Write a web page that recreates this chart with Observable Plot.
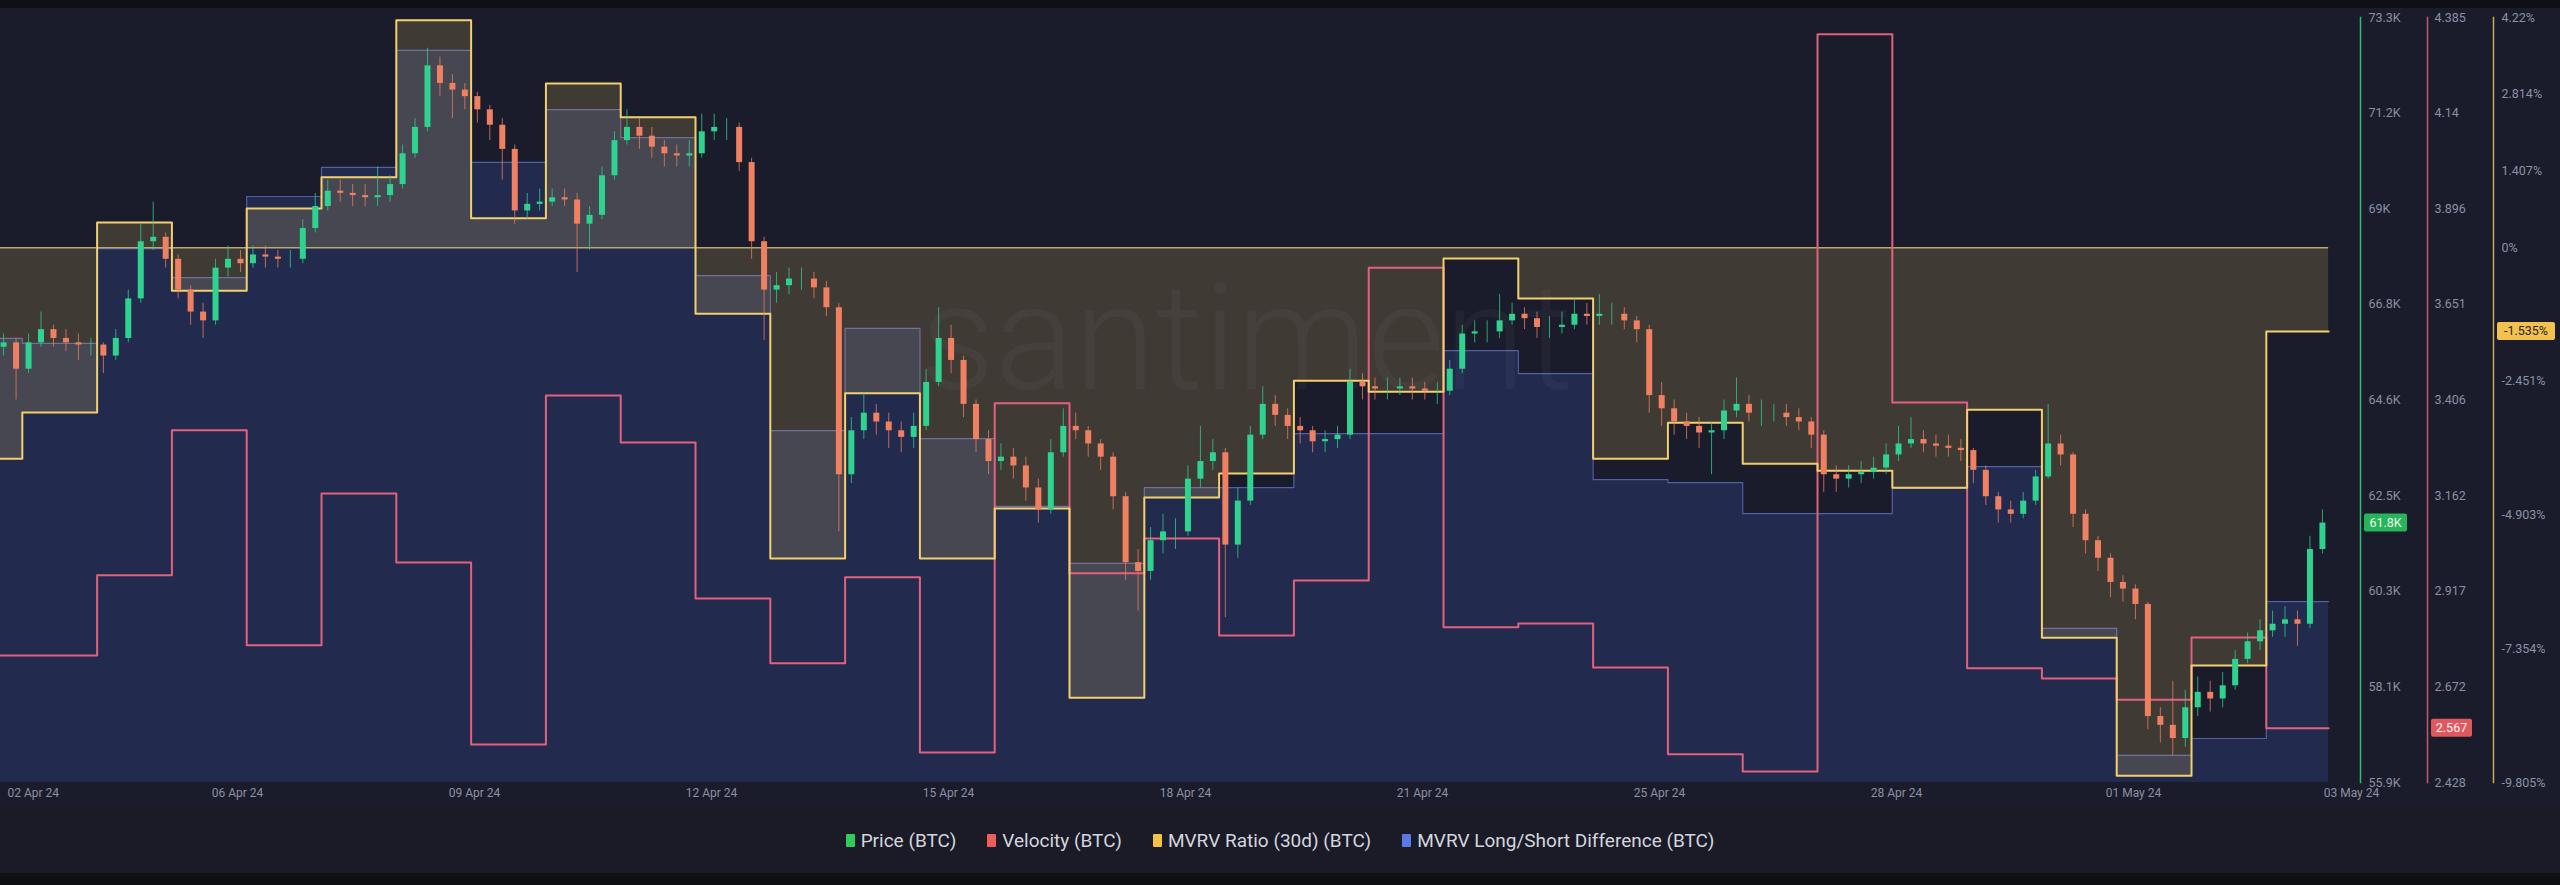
<!DOCTYPE html>
<html>
<head>
<meta charset="utf-8">
<script src="https://cdn.jsdelivr.net/npm/d3@7"></script>
<script src="https://cdn.jsdelivr.net/npm/@observablehq/plot@0.6"></script>
<style>
html,body{margin:0;padding:0;background:#1a1b27;width:2560px;height:885px;overflow:hidden;font-family:Roboto,"Noto Sans",sans-serif;}
#top{height:8px;background:#0f1015;}
#chart svg{display:block;}
#legend{height:65px;display:flex;justify-content:center;align-items:center;gap:31px;color:#d4d6df;font-size:19px;}
#legend .item{display:flex;align-items:center;gap:6px;}
#legend i{display:inline-block;width:9px;height:13px;border-radius:1px;}
#bottom{height:12px;background:#0e0f13;}
</style>
</head>
<body>
<div id="top"></div>
<div id="chart"></div>
<div id="legend"></div>
<div id="bottom"></div>
<script>
// ---------------- DATA ----------------
// daily metrics, one value per UTC day starting 2024-04-02
const dayStart = "2024-04-02";
const mvrvRatio = [-3.87, -3.02, 0.46, -0.79, 0.72, 1.29, 4.17, 0.54, 3.01, 2.39, -1.21, -5.70, -2.67, -5.70, -4.78, -8.25, -4.58, -4.14, -2.44, -2.64, -0.20, -0.93, -3.87, -3.21, -3.96, -4.09, -4.40, -2.97, -7.15, -9.68, -7.66, -1.535];
const velocity = [2.753, 2.753, 2.958, 3.329, 2.779, 3.167, 2.991, 2.525, 3.418, 3.298, 2.899, 2.733, 2.953, 2.505, 3.398, 2.963, 3.052, 2.804, 2.945, 3.745, 2.825, 2.835, 2.722, 2.500, 2.456, 4.342, 3.400, 2.720, 2.694, 2.640, 2.799, 2.567];
const mvrvLongShort = [21.61, 21.48, 23.96, 23.20, 25.32, 26.08, 29.14, 26.21, 27.59, 26.86, 23.25, 19.20, 21.87, 18.99, 17.22, 15.73, 17.71, 17.71, 19.12, 19.12, 21.29, 20.69, 17.92, 17.84, 17.03, 17.03, 17.69, 18.26, 14.03, 10.71, 11.15, 14.73];
const dataEndTime = "2024-05-03T20:00:00Z";

// 4-hour price candles (thousand USD) starting 2024-04-02 16:00 UTC
const candleStart = "2024-04-02T16:00:00Z";
const firstOpen = 65.8;
const close = [65.9,65.3,65.9,66.2,66.0,65.9,65.85,65.85,65.6,66.0, 66.9,68.2,68.3,67.8,67.1,66.6,66.4,67.6,67.8,67.7, 67.9,67.85,67.8,67.8,68.5,69.0,69.35,69.3,69.25,69.2, 69.25,69.5,70.2,70.8,72.2,71.8,71.65,71.5,71.2,70.85, 70.3,68.9,69.05,69.1,69.2,69.15,68.6,68.8,69.7,70.5, 70.8,70.6,70.35,70.2,70.15,70.2,70.7,70.8,70.8,70.0, 68.2,67.1,67.2,67.35,67.35,67.15,66.7,62.9,63.9,64.3, 64.1,63.9,63.75,64.0,65.0,66.0,65.5,64.5,63.7,63.2, 63.3,63.1,62.6,62.1,63.4,64.0,63.9,63.6,63.3,62.4, 60.9,60.7,61.4,61.6,61.6,62.8,63.2,63.4,61.3,62.3, 63.8,64.5,64.25,64.0,63.9,63.65,63.7,63.8,65.0,64.9, 64.85,64.85,64.9,64.85,64.8,64.8,65.3,66.1,66.15,66.15, 66.4,66.55,66.45,66.25,66.25,66.3,66.55,66.5,66.55,66.55, 66.4,66.2,64.7,64.4,64.1,64.0,63.85,63.9,64.35,64.5, 64.3,64.3,64.3,64.2,64.1,63.8,62.9,62.8,62.9,62.95, 63.05,63.35,63.6,63.7,63.6,63.55,63.5,63.45,63.0,62.4, 62.1,62.0,62.3,62.85,63.6,63.35,62.0,61.4,61.0,60.45, 60.3,59.95,57.4,57.2,56.9,57.6,57.95,57.8,58.1,58.7, 59.1,59.35,59.5,59.6,59.5,61.2,61.8];
const high = [66.1,66.0,66.1,66.6,66.3,66.2,66.1,66.0,65.9,66.2, 67.1,68.6,69.1,68.4,67.9,67.2,66.8,67.8,68.1,68.0, 68.1,68.1,68.0,68.0,68.7,69.3,69.6,69.6,69.5,69.5, 69.9,69.7,70.4,71.0,72.6,72.4,72.0,71.8,71.6,71.3, 71.0,70.4,69.3,69.4,69.4,69.4,69.3,69.0,69.9,70.7, 71.2,71.0,70.8,70.5,70.4,70.5,71.1,71.1,71.0,70.9, 70.1,68.3,67.5,67.6,67.6,67.5,67.3,66.8,64.2,64.75, 64.5,64.3,64.1,64.3,65.3,66.7,66.3,65.6,64.6,63.9, 63.6,63.5,63.3,62.8,63.7,64.4,64.3,64.0,63.7,63.4, 62.5,61.2,61.7,62.0,61.9,63.1,64.0,63.7,63.5,62.6, 64.0,64.9,64.7,64.4,64.2,64.0,63.9,64.0,65.3,65.2, 65.1,65.1,65.1,65.1,65.0,65.0,65.5,66.3,66.4,66.4, 67.0,66.8,66.7,66.6,66.5,66.6,66.9,66.8,67.0,66.8, 66.7,66.5,66.3,65.0,64.6,64.3,64.2,64.1,64.6,65.1, 64.7,64.6,64.5,64.5,64.4,64.2,63.9,63.1,63.1,63.2, 63.3,63.6,64.0,64.2,63.9,63.8,63.8,63.7,63.5,63.1, 62.5,62.3,62.5,63.0,64.5,63.8,63.4,62.1,61.5,61.1, 60.6,60.4,60.0,57.6,58.2,58.0,58.3,58.2,58.4,58.9, 59.3,59.6,59.8,59.9,59.8,61.5,62.1];
const low = [65.6,64.6,65.2,65.8,65.8,65.7,65.5,65.6,65.2,65.5, 65.9,66.8,68.0,67.6,66.9,66.3,66.0,66.3,67.4,67.5, 67.6,67.6,67.6,67.6,67.7,68.4,68.9,69.1,69.0,69.0, 69.0,69.1,69.4,70.1,70.7,71.5,71.0,71.2,70.9,70.5, 69.6,68.6,68.7,68.9,69.0,69.0,67.5,68.0,68.7,69.6, 70.4,70.3,70.1,69.9,69.9,69.9,70.1,70.5,70.5,69.8, 67.8,65.95,66.8,67.0,67.1,66.9,66.5,61.6,62.7,63.7, 63.8,63.5,63.4,63.5,63.9,64.9,65.2,64.2,63.4,62.9, 63.0,62.8,62.3,61.8,62.0,63.3,63.7,63.3,63.0,62.1, 60.5,59.8,60.5,61.1,61.2,61.5,62.6,63.0,59.65,61.0, 62.2,63.7,64.0,63.7,63.6,63.4,63.4,63.5,63.7,64.6, 64.6,64.6,64.7,64.6,64.6,64.5,64.7,65.2,65.9,65.9, 66.0,66.3,66.2,66.0,66.0,66.1,66.2,66.3,66.3,66.3, 66.2,65.9,64.3,64.0,63.8,63.7,63.5,62.9,63.7,64.2, 64.1,64.0,64.1,64.0,63.9,63.5,62.5,62.5,62.6,62.7, 62.8,62.9,63.2,63.5,63.4,63.3,63.3,63.2,62.7,62.2, 61.8,61.8,61.9,62.2,62.8,63.1,61.7,61.1,60.7,60.1, 60.0,59.6,57.1,56.8,56.5,56.7,57.4,57.5,57.6,58.0, 58.6,58.9,59.2,59.2,59.0,59.4,61.1];

// axis domains and tick labels
const priceDomain = [55.9, 73.3];
const priceTickLabels = ["55.9K","58.1K","60.3K","62.5K","64.6K","66.8K","69K","71.2K","73.3K"];
const velDomain = [2.428, 4.385];
const velTickLabels = ["2.428","2.672","2.917","3.162","3.406","3.651","3.896","4.14","4.385"];
const mvrvDomain = [-9.805, 4.22];
const mvrvTicks = [-9.805, -7.354, -4.903, -2.451, 0, 1.407, 2.814, 4.22];
const mvrvTickLabels = ["-9.805%","-7.354%","-4.903%","-2.451%","0%","1.407%","2.814%","4.22%"];
const lsDomain = [10, 30];
const xTickLabels = ["02 Apr 24","06 Apr 24","09 Apr 24","12 Apr 24","15 Apr 24","18 Apr 24","21 Apr 24","25 Apr 24","28 Apr 24","01 May 24","03 May 24"];
const legendLabels = ["Price (BTC)","Velocity (BTC)","MVRV Ratio (30d) (BTC)","MVRV Long/Short Difference (BTC)"];
const legendColors = ["#2ecc5a","#ef5d5d","#f4c244","#5a78e6"];

// ---------------- LAYOUT ----------------
const xStart = new Date("2024-04-02T17:00:00Z");
const pxPerDay = 74.8, frameRight = 2360, tickStepPx = 237;
const xEnd = new Date(+xStart + frameRight / pxPerDay * 864e5);
const dataEnd = new Date(dataEndTime);

const velToP = d3.scaleLinear(velDomain, priceDomain);
const mvrvToP = d3.scaleLinear(mvrvDomain, priceDomain);
const lsToP = d3.scaleLinear(lsDomain, priceDomain);

const daily = mvrvRatio.map((m, i) => ({date: d3.utcDay.offset(new Date(dayStart), i), mvrv: m, vel: velocity[i], ls: mvrvLongShort[i]}));
daily.push({...daily[daily.length - 1], date: dataEnd});

const candles = close.map((c, i) => ({
  t: d3.utcHour.offset(new Date(candleStart), 4 * i + 2),
  open: i ? close[i - 1] : firstOpen, close: c, high: high[i], low: low[i]
}));
const candleColor = d => d.close >= d.open ? "#2fd28f" : "#f08062";

const priceTicks = priceTickLabels.map((l, i) => ({v: priceDomain[0] + i * (priceDomain[1] - priceDomain[0]) / (priceTickLabels.length - 1), label: l}));
const velTicks = velTickLabels.map((l, i) => ({v: velToP(+l), label: l}));
const mvTicks = mvrvTicks.map((v, i) => ({v: mvrvToP(v), label: mvrvTickLabels[i]}));
const xTicks = xTickLabels.map((l, i) => ({date: new Date(+xStart + i * tickStepPx / pxPerDay * 864e5), label: l}));

const axisColor = "#8c90a3";
const fontSize = 12;

const badges = [
  {p: close[close.length - 1], text: close[close.length - 1].toFixed(1) + "K", dx: 4, w: 43, bg: "#27b45a", fg: "#eefbee"},
  {p: velToP(velocity[velocity.length - 1]), text: velocity[velocity.length - 1].toFixed(3), dx: 71, w: 41, bg: "#e0585f", fg: "#fff3f3"},
  {p: mvrvToP(mvrvRatio[mvrvRatio.length - 1]), text: mvrvRatio[mvrvRatio.length - 1].toFixed(3) + "%", dx: 137, w: 58, bg: "#f3c24e", fg: "#2a2418"}
];

const chart = Plot.plot({
  width: 2560, height: 800,
  marginLeft: 0, marginRight: 200, marginTop: 9, marginBottom: 26,
  style: {background: "#1a1c2b", color: axisColor, fontFamily: "Roboto, 'Noto Sans', sans-serif", fontSize: fontSize + "px"},
  x: {type: "utc", domain: [xStart, xEnd], axis: null},
  y: {domain: priceDomain, axis: null},
  marks: [
    // MVRV long/short difference area
    Plot.areaY(daily, {x: "date", y1: () => priceDomain[0], y2: d => lsToP(d.ls), curve: "step-after", fill: "#222b4e", clip: true}),
    Plot.lineY(daily, {x: "date", y: d => lsToP(d.ls), curve: "step-after", stroke: "#5d69b6", strokeWidth: 1.2, strokeOpacity: 0.85, clip: true}),
    // MVRV ratio fill to zero
    Plot.areaY(daily, {x: "date", y1: () => mvrvToP(0), y2: d => mvrvToP(d.mvrv), curve: "step-after", fill: "#f0c864", fillOpacity: 0.18, clip: true}),
    Plot.ruleY([0], {y: d => mvrvToP(d), x1: () => xStart, x2: () => dataEnd, stroke: "#b8a86c", strokeWidth: 1.6}),
    // watermark
    Plot.text(["santiment"], {frameAnchor: "middle", dx: 66, dy: -58, fontSize: 148, fill: "#ffffff", fillOpacity: 0.035, fontWeight: 300}),
    // velocity
    Plot.lineY(daily, {x: "date", y: d => velToP(d.vel), curve: "step-after", stroke: "#e2617d", strokeWidth: 2, clip: true}),
    // MVRV ratio line
    Plot.lineY(daily, {x: "date", y: d => mvrvToP(d.mvrv), curve: "step-after", stroke: "#f2d06e", strokeWidth: 2, clip: true}),
    // candles
    Plot.ruleX(candles, {x: "t", y1: "low", y2: "high", stroke: candleColor, strokeWidth: 1, strokeOpacity: 0.75, clip: true}),
    Plot.ruleX(candles, {x: "t", y1: "open", y2: "close", stroke: candleColor, strokeWidth: 6, clip: true}),
    // right axes lines
    Plot.frame({anchor: "right", stroke: "#2fbf6a", strokeWidth: 1.5}),
    Plot.frame({anchor: "right", stroke: "#c45872", strokeWidth: 1.5, dx: 67}),
    Plot.frame({anchor: "right", stroke: "#c2ad58", strokeWidth: 1.5, dx: 133}),
    // right axes labels
    Plot.text(priceTicks, {frameAnchor: "right", y: "v", text: "label", textAnchor: "start", dx: 8, fill: axisColor, fontSize: 12.5}),
    Plot.text(velTicks, {frameAnchor: "right", y: "v", text: "label", textAnchor: "start", dx: 74, fill: axisColor, fontSize: 12.5}),
    Plot.text(mvTicks, {frameAnchor: "right", y: "v", text: "label", textAnchor: "start", dx: 141, fill: axisColor, fontSize: 12.5}),
    // x axis labels
    Plot.text(xTicks.slice(0, 1), {x: "date", text: "label", frameAnchor: "bottom", dy: 14, dx: 7, textAnchor: "start", fill: axisColor, fontSize}),
    Plot.text(xTicks.slice(1, -1), {x: "date", text: "label", frameAnchor: "bottom", dy: 14, fill: axisColor, fontSize}),
    Plot.text(xTicks.slice(-1), {x: "date", text: "label", frameAnchor: "bottom", dy: 14, dx: -19, fill: axisColor, fontSize}),
    // last-value badges
    (index, scales, values, dimensions) => {
      const g = d3.create("svg:g");
      const xr = dimensions.width - dimensions.marginRight;
      for (const b of badges) {
        const y = scales.y(b.p);
        g.append("rect").attr("x", xr + b.dx).attr("y", y - 9).attr("width", b.w).attr("height", 18).attr("rx", 2).attr("fill", b.bg);
        g.append("text").attr("x", xr + b.dx + b.w / 2).attr("y", y).attr("dy", "0.35em").attr("text-anchor", "middle")
          .attr("fill", b.fg).attr("font-size", 12.5).text(b.text);
      }
      return g.node();
    }
  ]
});
document.getElementById("chart").appendChild(chart);

const legend = document.getElementById("legend");
legendLabels.forEach((l, i) => {
  const s = document.createElement("span");
  s.className = "item";
  s.innerHTML = `<i style="background:${legendColors[i]}"></i>${l}`;
  legend.appendChild(s);
});
</script>
</body>
</html>
